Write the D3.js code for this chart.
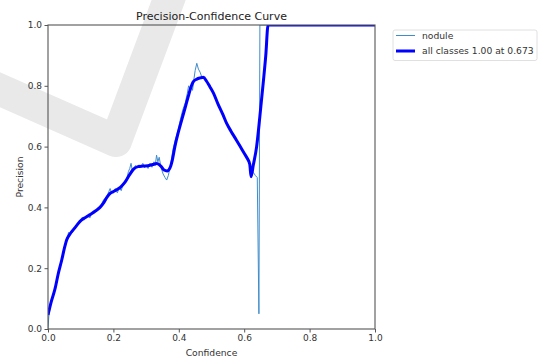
<!DOCTYPE html>
<html>
<head>
<meta charset="utf-8">
<script src="https://cdn.jsdelivr.net/npm/d3@7/dist/d3.min.js"></script>
<style>
  html, body { margin: 0; padding: 0; background: #fff; }
  svg { display: block; font-family: "DejaVu Sans", sans-serif; }
</style>
</head>
<body>
<svg id="chart" width="540" height="358"></svg>
<script>
// Confidence thresholds and precision for the single class ("nodule")
const noduleConf = [0.000, 0.003, 0.010, 0.021, 0.031, 0.042, 0.055, 0.060, 0.063, 0.066, 0.070, 0.075,
  0.080, 0.090, 0.100, 0.105, 0.110, 0.115, 0.122, 0.128, 0.132, 0.140, 0.150, 0.160, 0.170, 0.180,
  0.186, 0.190, 0.194, 0.200, 0.206, 0.212, 0.218, 0.224, 0.230, 0.240, 0.246, 0.250, 0.254, 0.258,
  0.262, 0.268, 0.273, 0.278, 0.284, 0.290, 0.295, 0.300, 0.306, 0.312, 0.318, 0.324, 0.328, 0.332,
  0.336, 0.340, 0.346, 0.352, 0.358, 0.363, 0.368, 0.375, 0.382, 0.390, 0.398, 0.405, 0.412, 0.420,
  0.426, 0.430, 0.434, 0.438, 0.442, 0.446, 0.450, 0.455, 0.460, 0.465, 0.470, 0.475, 0.485, 0.495,
  0.506, 0.520, 0.535, 0.546, 0.560, 0.573, 0.587, 0.600, 0.610, 0.616, 0.622, 0.628, 0.634, 0.640,
  0.645, 0.648, 1.000];
const nodulePrec = [0.000, 0.050, 0.090, 0.130, 0.180, 0.228, 0.290, 0.305, 0.318, 0.308, 0.322, 0.318,
  0.330, 0.343, 0.360, 0.368, 0.358, 0.368, 0.372, 0.365, 0.378, 0.384, 0.393, 0.402, 0.425, 0.436,
  0.452, 0.462, 0.448, 0.455, 0.462, 0.448, 0.465, 0.455, 0.478, 0.490, 0.518, 0.528, 0.545, 0.520,
  0.530, 0.538, 0.530, 0.540, 0.535, 0.545, 0.530, 0.538, 0.528, 0.545, 0.532, 0.550, 0.538, 0.572,
  0.550, 0.565, 0.530, 0.510, 0.498, 0.490, 0.505, 0.540, 0.590, 0.625, 0.655, 0.690, 0.720, 0.745,
  0.775, 0.800, 0.790, 0.800, 0.785, 0.820, 0.850, 0.874, 0.855, 0.845, 0.830, 0.826, 0.815, 0.797,
  0.776, 0.740, 0.705, 0.677, 0.650, 0.627, 0.602, 0.578, 0.560, 0.545, 0.528, 0.515, 0.505, 0.498,
  0.050, 1.000, 1.000];

// Smoothed mean precision over all classes
const allConf = [0.000, 0.010, 0.021, 0.031, 0.042, 0.050, 0.057, 0.067, 0.077, 0.088, 0.098, 0.110,
  0.122, 0.134, 0.146, 0.159, 0.170, 0.180, 0.190, 0.200, 0.210, 0.222, 0.235, 0.248, 0.261, 0.275,
  0.290, 0.305, 0.320, 0.333, 0.345, 0.355, 0.364, 0.373, 0.380, 0.388, 0.398, 0.409, 0.420, 0.429,
  0.437, 0.444, 0.455, 0.466, 0.475, 0.485, 0.495, 0.506, 0.520, 0.535, 0.546, 0.560, 0.573, 0.587,
  0.600, 0.610, 0.617, 0.621, 0.628, 0.638, 0.648, 0.658, 0.666, 0.673, 1.000];
const allPrec = [0.046, 0.090, 0.130, 0.180, 0.227, 0.265, 0.293, 0.312, 0.326, 0.341, 0.354, 0.364,
  0.372, 0.380, 0.389, 0.400, 0.415, 0.433, 0.446, 0.452, 0.458, 0.467, 0.482, 0.505, 0.525, 0.534,
  0.536, 0.537, 0.541, 0.544, 0.536, 0.523, 0.520, 0.530, 0.555, 0.600, 0.645, 0.688, 0.730, 0.765,
  0.795, 0.813, 0.822, 0.826, 0.828, 0.815, 0.797, 0.776, 0.740, 0.705, 0.677, 0.650, 0.627, 0.602,
  0.578, 0.560, 0.542, 0.501, 0.540, 0.600, 0.700, 0.808, 0.900, 1.000, 1.000];

const tickValues = [0, 0.2, 0.4, 0.6, 0.8, 1.0];
const legendLabels = ["nodule", "all classes 1.00 at 0.673"];

const svg = d3.select("#chart");
const plot = { left: 48, right: 375, top: 25, bottom: 329 };

// Faint checkmark emblem in the page background
svg.append("path")
  .attr("d", "M-20,81 L116,141 L178,-25")
  .attr("fill", "none")
  .attr("stroke", "#e9e9e9")
  .attr("stroke-width", 32)
  .attr("stroke-linejoin", "round");

const x = d3.scaleLinear().domain([0, 1]).range([plot.left, plot.right]);
const y = d3.scaleLinear().domain([0, 1]).range([plot.bottom, plot.top]);

svg.append("defs").append("clipPath").attr("id", "plotClip")
  .append("rect")
  .attr("x", plot.left).attr("y", plot.top)
  .attr("width", plot.right - plot.left).attr("height", plot.bottom - plot.top);

const line = d3.line().x(d => x(d[0])).y(d => y(d[1]));
const smoothLine = d3.line().x(d => x(d[0])).y(d => y(d[1])).curve(d3.curveMonotoneX);
const lines = svg.append("g").attr("clip-path", "url(#plotClip)");

lines.append("path")
  .datum(d3.zip(noduleConf, nodulePrec))
  .attr("d", line)
  .attr("fill", "none")
  .attr("stroke", "#3f8ccb")
  .attr("stroke-width", 1);

lines.append("path")
  .datum(d3.zip(allConf, allPrec))
  .attr("d", smoothLine)
  .attr("fill", "none")
  .attr("stroke", "#0000ff")
  .attr("stroke-width", 3)
  .attr("stroke-linejoin", "round");

// Axes
const fmt = d3.format(".1f");
const xAxis = svg.append("g")
  .attr("transform", `translate(0,${plot.bottom})`)
  .call(d3.axisBottom(x).tickValues(tickValues).tickFormat(fmt).tickSize(3.5).tickPadding(2.5));
const yAxis = svg.append("g")
  .attr("transform", `translate(${plot.left},0)`)
  .call(d3.axisLeft(y).tickValues(tickValues).tickFormat(fmt).tickSize(3.5).tickPadding(2.5));

[xAxis, yAxis].forEach(g => {
  g.select(".domain").remove();
  g.selectAll("line").attr("stroke", "#555");
  g.selectAll("text").attr("fill", "#333").style("font-size", "9px")
    .style("font-family", "'DejaVu Sans', sans-serif");
});

// Frame
svg.append("rect")
  .attr("x", plot.left).attr("y", plot.top)
  .attr("width", plot.right - plot.left).attr("height", plot.bottom - plot.top)
  .attr("fill", "none").attr("stroke", "#555").attr("stroke-width", 1.1);

// Title and axis labels
svg.append("text")
  .attr("x", (plot.left + plot.right) / 2).attr("y", 20)
  .attr("text-anchor", "middle").attr("fill", "#222")
  .style("font-size", "11px")
  .text("Precision-Confidence Curve");

svg.append("text")
  .attr("x", (plot.left + plot.right) / 2).attr("y", 355.5)
  .attr("text-anchor", "middle").attr("fill", "#333")
  .style("font-size", "9.2px")
  .text("Confidence");

svg.append("text")
  .attr("transform", `translate(23,${(plot.top + plot.bottom) / 2}) rotate(-90)`)
  .attr("text-anchor", "middle").attr("fill", "#333")
  .style("font-size", "9.2px")
  .text("Precision");

// Legend
const legend = svg.append("g");
legend.append("rect")
  .attr("x", 393).attr("y", 30).attr("width", 144).attr("height", 30.5)
  .attr("rx", 2).attr("fill", "#fff")
  .attr("stroke", "#d8d8d8").attr("stroke-width", 0.8);

const legendStyles = [
  { color: "#3f8ccb", width: 1 },
  { color: "#0000ff", width: 3 }
];
legendLabels.forEach((label, i) => {
  const cy = 35.5 + i * 15.5;
  legend.append("line")
    .attr("x1", 396).attr("x2", 415).attr("y1", cy).attr("y2", cy)
    .attr("stroke", legendStyles[i].color).attr("stroke-width", legendStyles[i].width);
  legend.append("text")
    .attr("x", 422).attr("y", cy).attr("dy", "0.35em")
    .attr("fill", "#333").style("font-size", "9.2px")
    .text(label);
});
</script>
</body>
</html>
